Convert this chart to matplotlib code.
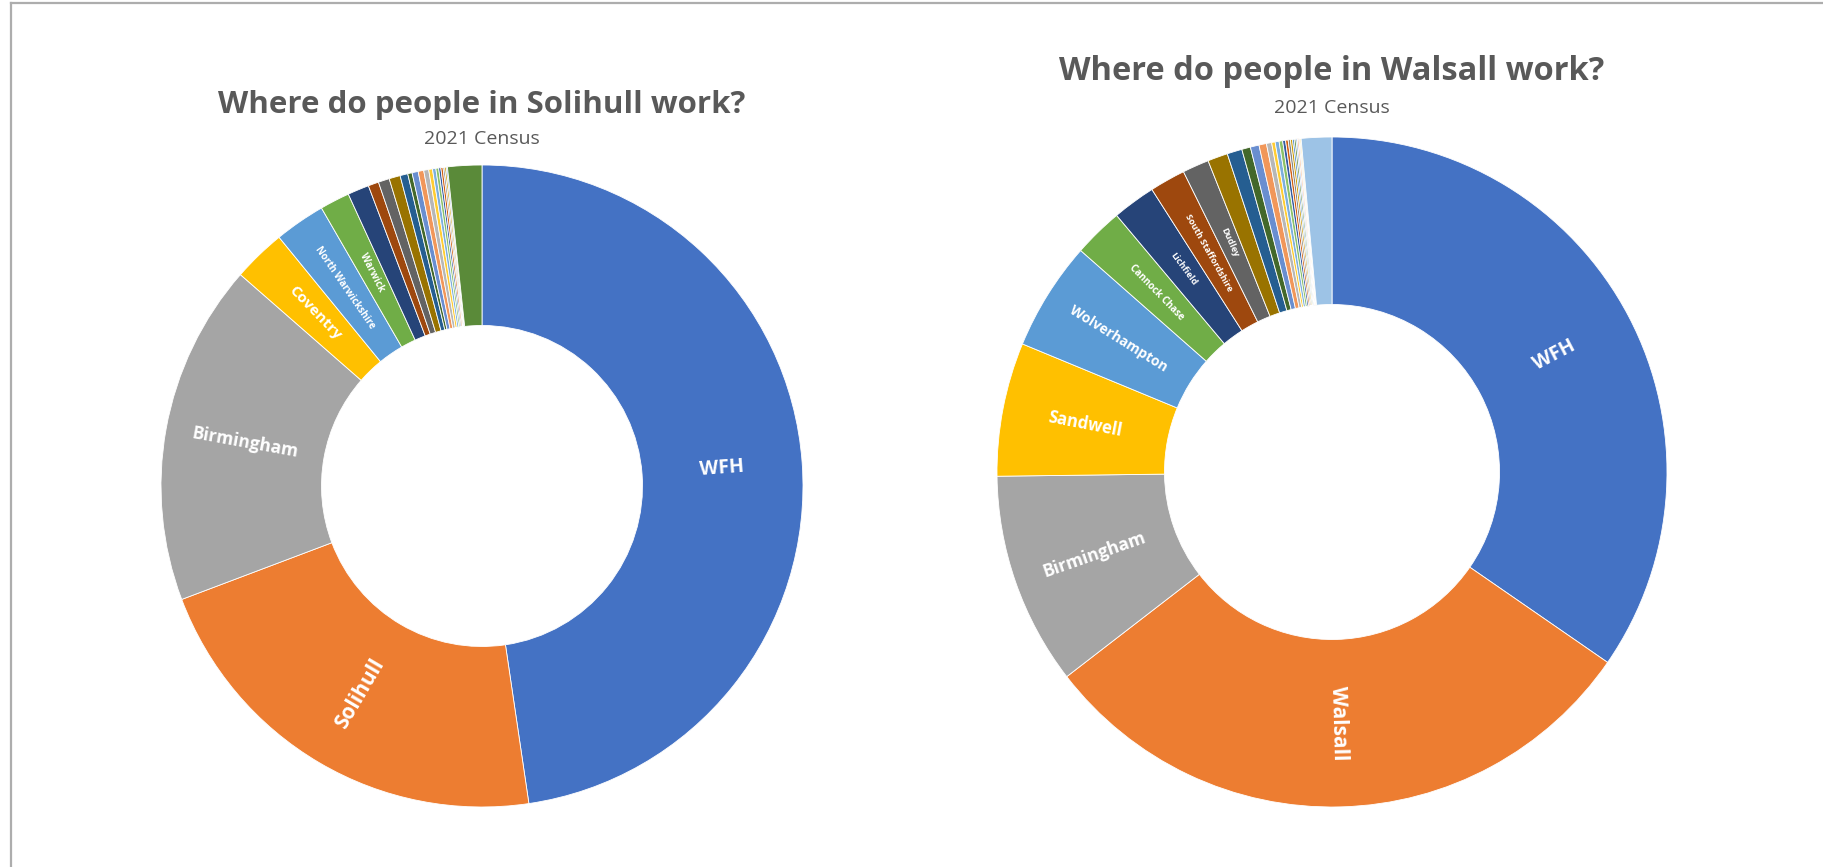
import numpy as np
import matplotlib
matplotlib.use("Agg")
import matplotlib.pyplot as plt
from matplotlib.lines import Line2D

plt.rcParams['font.family'] = ['Open Sans', 'DejaVu Sans']

# Solihull residents - place of work (share %, 2021 Census)
solihull_labels = ['WFH', 'Solihull', 'Birmingham', 'Coventry', 'North Warwickshire', 'Warwick',
                   '', '', '', '', '', '', '', '', '', '', '', '', '', '', '', '', '', '']
solihull_values = [47.7, 21.6, 17.2, 2.67, 2.56, 1.5,
                   1.08, 0.53, 0.56, 0.56, 0.39, 0.22, 0.31, 0.28, 0.25, 0.19,
                   0.17, 0.14, 0.11, 0.11, 0.08, 0.08, 0.06, 1.72]

# Walsall residents - place of work (share %, 2021 Census)
walsall_labels = ['WFH', 'Walsall', 'Birmingham', 'Sandwell', 'Wolverhampton', 'Cannock Chase',
                  'Lichfield', 'South Staffordshire', 'Dudley',
                  '', '', '', '', '', '', '', '', '', '', '', '', '', '', '', '', '', '', '', '']
walsall_values = [34.6, 29.9, 10.25, 6.44, 5.25, 2.39, 2.08, 1.72, 1.28,
                  0.97, 0.72, 0.42, 0.42, 0.36, 0.25, 0.17, 0.19, 0.17,
                  0.14, 0.125, 0.11, 0.10, 0.08, 0.08, 0.07, 0.07, 0.055, 0.055, 1.47]

# office-style series colours
palette = ['#4472C4', '#ED7D31', '#A5A5A5', '#FFC000', '#5B9BD5', '#70AD47',
           '#264478', '#9E480E', '#636363', '#997300', '#255E91', '#43682B',
           '#698ED0', '#F1975A', '#B7B7B7', '#FFCD33', '#7CAFDD', '#8CC168',
           '#335AA1', '#D26012', '#848484', '#CC9A00', '#3C7DC4', '#5A8A39',
           '#8FAADC', '#F4B183', '#C9C9C9', '#FFD966', '#9DC3E6', '#A9D18E']

label_sizes = {'WFH': 14, 'Solihull': 15, 'Walsall': 15, 'Birmingham': 12.5, 'Sandwell': 12,
               'Coventry': 11, 'Wolverhampton': 10, 'North Warwickshire': 7, 'Warwick': 7,
               'Cannock Chase': 7, 'Lichfield': 6.5, 'South Staffordshire': 6.5, 'Dudley': 6.5}

W, H = 1823, 867
TITLE_COLOR = '#595959'


def donut(fig, cx, cy, r, values, labels, title, title_y, sub_y, title_size):
    ax = fig.add_axes([(cx - r) / W, 1 - (cy + r) / H, 2 * r / W, 2 * r / H])
    colors = [palette[i % len(palette)] for i in range(len(values))]
    wedges, _ = ax.pie(values, colors=colors, startangle=90, counterclock=False, radius=1,
                       wedgeprops=dict(width=0.5, edgecolor='white', linewidth=0.6))
    ax.set_xlim(-1, 1)
    ax.set_ylim(-1, 1)
    ax.axis('off')
    for w, lab in zip(wedges, labels):
        if not lab:
            continue
        mid = (w.theta1 + w.theta2) / 2
        rm = 0.75
        x, y = rm * np.cos(np.radians(mid)), rm * np.sin(np.radians(mid))
        rot = (mid + 180) % 360 - 180
        if rot > 90:
            rot -= 180
        elif rot < -90:
            rot += 180
        ax.text(x, y, lab, ha='center', va='center', rotation=rot, rotation_mode='anchor',
                color='white', fontweight='bold', fontsize=label_sizes.get(lab, 7))
    fig.text(cx / W, 1 - title_y / H, title, ha='center', va='center',
             fontsize=title_size, fontweight='bold', color=TITLE_COLOR)
    fig.text(cx / W, 1 - sub_y / H, '2021 Census', ha='center', va='center',
             fontsize=14, color=TITLE_COLOR)


def main():
    fig = plt.figure(figsize=(W / 100, H / 100), dpi=100)
    fig.patch.set_facecolor('white')

    donut(fig, 482, 486, 321, solihull_values, solihull_labels,
          'Where do people in Solihull work?', 105, 139, 22.5)
    donut(fig, 1332, 472, 335, walsall_values, walsall_labels,
          'Where do people in Walsall work?', 72, 108, 23.5)

    # chart frame (top and left edges visible)
    fig.add_artist(Line2D([11 / W, 1], [1 - 2.5 / H, 1 - 2.5 / H], color='#ADADAD', lw=1.6))
    fig.add_artist(Line2D([11 / W, 11 / W], [0, 1 - 2.5 / H], color='#ADADAD', lw=1.6))

    plt.savefig('out.png', dpi=100)


if __name__ == '__main__':
    main()
